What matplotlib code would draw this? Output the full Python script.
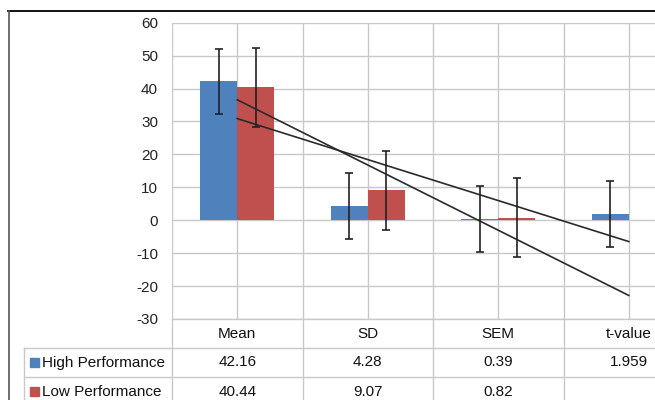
import numpy as np
import matplotlib
matplotlib.use("Agg")
import matplotlib.pyplot as plt

plt.rcParams['font.family'] = ['Liberation Sans', 'DejaVu Sans']
plt.rcParams['axes.unicode_minus'] = False

categories = ["Mean", "SD", "SEM", "t-value"]
series_names = ["High Performance", "Low Performance"]
high_values = [42.16, 4.28, 0.39, 1.959]
low_values = [40.44, 9.07, 0.82, np.nan]
high_err = [10, 10, 10, 10]
low_err = [12, 12, 12, np.nan]
y_ticks = [-30, -20, -10, 0, 10, 20, 30, 40, 50, 60]

colors = ["#4F81BD", "#C0504D"]
grid_c = "#C8C8C8"

W, H = 655, 400
fig = plt.figure(figsize=(W / 100, H / 100), dpi=100)

# overlay axes in pixel coordinates for borders and table
ov = fig.add_axes([0, 0, 1, 1], zorder=0)
ov.set_xlim(0, W)
ov.set_ylim(H, 0)
ov.axis("off")

x_left, x_right = 172, 694
y_top, y_bot = 22.7, 319
ax = fig.add_axes([x_left / W, 1 - y_bot / H, (x_right - x_left) / W, (y_bot - y_top) / H], zorder=1)
ax.patch.set_alpha(0)

n = len(categories)
centers = np.arange(n) + 0.5
bw = 0.284
series = [high_values, low_values]
errs = [high_err, low_err]
offs = [-bw / 2, bw / 2]
for vals, err, off, col in zip(series, errs, offs, colors):
    v = np.array(vals, dtype=float)
    e = np.array(err, dtype=float)
    ax.bar(centers + off, np.nan_to_num(v), width=bw, color=col, zorder=2)
    ax.errorbar(centers + off, v, yerr=e, fmt="none", ecolor="#222222",
                elinewidth=1.2, capsize=2.6, capthick=1.2, zorder=4)

# linear trendlines (Excel style, over all category positions)
idx = np.arange(1, n + 1)
for vals in series:
    v = np.array(vals, dtype=float)
    m = ~np.isnan(v)
    k, b = np.polyfit(idx[m], v[m], 1)
    ax.plot(centers, k * idx + b, color="#2a2a2a", lw=1.2, zorder=3)

ax.set_xlim(0, n)
ax.set_ylim(-30, 60)
ax.set_yticks(y_ticks)
ax.set_xticks(np.arange(0, n + 0.01, 0.5))
ax.set_xticklabels([])
ax.grid(True, color=grid_c, lw=1.0, zorder=0)
ax.set_axisbelow(True)
for s in ax.spines.values():
    s.set_visible(False)
ax.tick_params(axis="both", length=0)
ax.tick_params(axis="y", pad=10, labelsize=11, labelcolor="#222222")

# outer border
ov.plot([8, W], [11, 11], color="black", lw=1.3)
ov.plot([9, 9], [11, H], color="#555555", lw=1.2)

# data table
col_w = (x_right - x_left) / n
row_y = [319, 348, 377, 406]
lbl_x = 24
tbl_c = grid_c
ov.plot([x_left, x_right], [row_y[0], row_y[0]], color=tbl_c, lw=1)
for yy in row_y[1:]:
    ov.plot([lbl_x, x_right], [yy, yy], color=tbl_c, lw=1)
ov.plot([lbl_x, lbl_x], [row_y[1], row_y[3]], color=tbl_c, lw=1)
for i in range(n + 1):
    xx = x_left + i * col_w
    ov.plot([xx, xx], [row_y[0], row_y[3]], color=tbl_c, lw=1)

for i, c in enumerate(categories):
    ov.text(x_left + (i + 0.5) * col_w, (row_y[0] + row_y[1]) / 2, c,
            ha="center", va="center", fontsize=11, color="#111111")

for r, (name, vals, col) in enumerate(zip(series_names, series, colors)):
    yc = (row_y[r + 1] + row_y[r + 2]) / 2
    ov.add_patch(plt.Rectangle((30, yc - 4.5), 9, 9, color=col))
    ov.text(42, yc, name, ha="left", va="center", fontsize=11, color="#111111")
    for i, v in enumerate(vals):
        s = "" if np.isnan(v) else f"{v:g}"
        ov.text(x_left + (i + 0.5) * col_w, yc, s, ha="center", va="center",
                fontsize=11, color="#111111")

fig.savefig("out.png", dpi=100)
